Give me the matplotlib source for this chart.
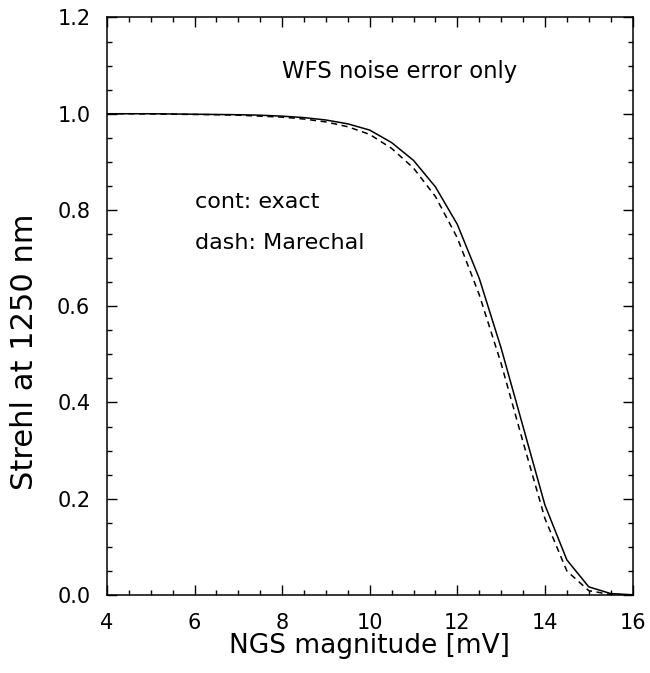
import matplotlib.pyplot as plt
from matplotlib.ticker import MultipleLocator

# NGS magnitude grid (0.5 mag steps)
mag = [4.0, 4.5, 5.0, 5.5, 6.0, 6.5, 7.0, 7.5, 8.0, 8.5, 9.0, 9.5, 10.0,
       10.5, 11.0, 11.5, 12.0, 12.5, 13.0, 13.5, 14.0, 14.5, 15.0, 15.5, 16.0]

# Strehl, exact computation (continuous line)
strehl_exact = [1.000, 1.000, 1.000, 0.9995, 0.999, 0.9985, 0.998, 0.997, 0.995,
                0.992, 0.987, 0.979, 0.966, 0.940, 0.903, 0.848, 0.770, 0.658,
                0.513, 0.350, 0.187, 0.073, 0.017, 0.003, 0.0005]

# Strehl, Marechal approximation (dashed line)
strehl_marechal = [1.000, 1.000, 0.9995, 0.999, 0.9985, 0.998, 0.997, 0.995, 0.993,
                   0.989, 0.983, 0.973, 0.957, 0.928, 0.887, 0.828, 0.742, 0.624,
                   0.481, 0.318, 0.159, 0.050, 0.009, 0.001, 0.0]

plt.rcParams['font.family'] = ['DejaVu Sans']

fig = plt.figure(figsize=(6.5, 6.73), dpi=100)
ax = fig.add_axes([0.1646, 0.1159, 0.8085, 0.8581])

ax.plot(mag, strehl_exact, color='black', lw=1.1)
ax.plot(mag, strehl_marechal, color='black', lw=1.1, ls=(0, (4, 3)))

ax.set_xlim(4, 16)
ax.set_ylim(0, 1.2)
ax.xaxis.set_major_locator(MultipleLocator(2))
ax.xaxis.set_minor_locator(MultipleLocator(0.5))
ax.yaxis.set_major_locator(MultipleLocator(0.2))
ax.yaxis.set_minor_locator(MultipleLocator(0.05))
ax.yaxis.set_major_formatter(lambda v, p: f'{v:.1f}')

ax.tick_params(which='both', direction='in', top=True, right=True, width=1.0)
ax.tick_params(which='major', length=7, labelsize=15)
ax.tick_params(which='minor', length=3.5)
ax.tick_params(axis='x', which='major', pad=13)
ax.tick_params(axis='y', which='major', pad=12)
for s in ax.spines.values():
    s.set_linewidth(1.1)

ax.set_xlabel('NGS magnitude [mV]', fontsize=19, labelpad=0)
fig.text(25 / 650, 1 - 352 / 673, 'Strehl at 1250 nm', fontsize=22,
         rotation=90, ha='center', va='center')

ax.text(8.0, 1.087, 'WFS noise error only', fontsize=16.4, va='center')
ax.text(6.0, 0.817, 'cont: exact', fontsize=16, va='center')
ax.text(6.0, 0.731, 'dash: Marechal', fontsize=16, va='center')

fig.savefig('out.png', dpi=100)
